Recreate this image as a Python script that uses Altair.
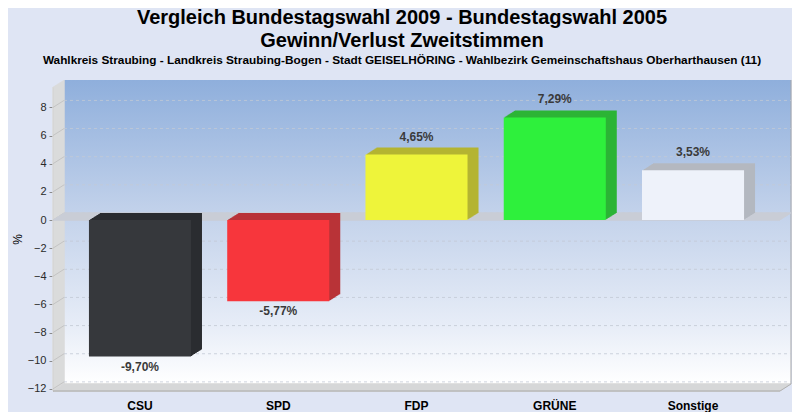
import altair as alt
import pandas as pd

parties = ["CSU", "SPD", "FDP", "GRÜNE", "Sonstige"]
changes = [-9.70, -5.77, 4.65, 7.29, 3.53]
front_colors = ["#36383c", "#f7363c", "#eef43a", "#2ef03c", "#eef2fa"]
side_colors = ["#2b2d31", "#b93338", "#b4b432", "#2cb436", "#b4b8c0"]
y_ticks = [-12, -10, -8, -6, -4, -2, 0, 2, 4, 6, 8]

df = pd.DataFrame({"Partei": parties, "Wert": changes,
                   "front": front_colors, "side": side_colors})
df["label"] = [f"{v:.2f}".replace(".", ",") + "%" for v in changes]
ticks = pd.DataFrame({"t": y_ticks})
one = pd.DataFrame({"a": [0]})

W, H = 738, 304      # plot area incl. depth
FACE = 727           # width of the front plane
DX, DY = 11, 7       # 3d depth
SANS = "Liberation Sans, Arial, sans-serif"

y_scale = alt.Scale(domain=[-12.15, 9.45], nice=False, zero=False)
y_axis = alt.Axis(values=y_ticks, title="%", titleFont=SANS, titleFontSize=12,
                  titleFontWeight="normal", titleColor="#000", titlePadding=3,
                  labelFont=SANS, labelFontSize=11, labelColor="#2a2a2a",
                  labelPadding=3, tickSize=4, tickColor="#8a8a8a",
                  domainColor="#a0a0a0", grid=False)


def yq(field=None, datum=None):
    if datum is not None:
        return alt.Y(datum=datum, type="quantitative", scale=y_scale, axis=y_axis)
    return alt.Y(field, type="quantitative", scale=y_scale, axis=y_axis)


x_enc = alt.X("Partei:N", sort=parties,
              scale=alt.Scale(range=[0, FACE], paddingInner=0.262, paddingOuter=0.26),
              axis=alt.Axis(title=None, labelAngle=0, labelFont=SANS,
                            labelFontSize=12, labelFontWeight="bold",
                            labelColor="#000", labelPadding=9, ticks=False,
                            domain=False))

layers = []

# back plane with gradient
layers.append(alt.Chart(one).mark_rect(
    color=alt.Gradient(gradient="linear", x1=0, x2=0, y1=0, y2=1,
                       stops=[alt.GradientStop(color="#8fafdc", offset=0),
                              alt.GradientStop(color="#c4d3eb", offset=0.45),
                              alt.GradientStop(color="#e6ecf7", offset=0.8),
                              alt.GradientStop(color="#ffffff", offset=1)])
).encode(x=alt.value(DX), x2=alt.value(W), y=alt.value(-DY), y2=alt.value(H - DY)))

# left wall
for i in range(DX + 1):
    layers.append(alt.Chart(one).mark_rule(color="#dadada", strokeWidth=1.5).encode(
        x=alt.value(i), y=alt.value(-i * DY / DX), y2=alt.value(H - i * DY / DX)))

# floor
for i in range(DY + 1):
    layers.append(alt.Chart(one).mark_rule(color="#d6d6d6", strokeWidth=1.5).encode(
        x=alt.value(i * DX / DY), x2=alt.value(FACE + i * DX / DY), y=alt.value(H - i)))
layers.append(alt.Chart(one).mark_rule(color="#a8a8a8").encode(
    x=alt.value(0), x2=alt.value(FACE), y=alt.value(H)))
layers.append(alt.Chart(one).mark_rule(color="#b0b0b0").encode(
    x=alt.value(FACE), x2=alt.value(W), y=alt.value(H), y2=alt.value(H - DY)))
layers.append(alt.Chart(one).mark_rule(color="#a8a8a8").encode(
    x=alt.value(W), y=alt.value(-DY), y2=alt.value(H - DY)))

# grid on back plane and diagonals in the wall
layers.append(alt.Chart(ticks).mark_rule(color="#c3c9d5", strokeDash=[3, 3],
                                         opacity=0.8, yOffset=-DY).encode(
    x=alt.value(DX), x2=alt.value(W), y=yq("t")))
layers.append(alt.Chart(ticks).mark_rule(color="#c4c4c4", y2Offset=-DY).encode(
    x=alt.value(0), x2=alt.value(DX), y=yq("t"), y2=alt.Y2("t")))

# zero plane
for i in range(DX + 1):
    layers.append(alt.Chart(one).mark_rule(color="#c9cdd6", strokeWidth=1.5,
                                           yOffset=-i * DY / DX).encode(
        x=alt.value(i), x2=alt.value(FACE + i), y=yq(datum=0)))

# 3d bars: extruded sides, then front
for i in range(DX, 0, -1):
    off = -i * DY / DX
    layers.append(alt.Chart(df).mark_bar(xOffset=i, x2Offset=i, yOffset=off,
                                         y2Offset=off).encode(
        x=x_enc, y=yq("Wert"), y2=alt.Y2(datum=0),
        color=alt.Color("side:N", scale=None)))
layers.append(alt.Chart(df).mark_bar().encode(
    x=x_enc, y=yq("Wert"), y2=alt.Y2(datum=0),
    color=alt.Color("front:N", scale=None)))

# value labels
label_style = dict(font=SANS, fontSize=12, fontWeight="bold", color="#3a3a3a",
                   baseline="middle")
layers.append(alt.Chart(df[df["Wert"] > 0]).mark_text(dy=-18, **label_style).encode(
    x=x_enc, y=yq("Wert"), text="label:N"))
layers.append(alt.Chart(df[df["Wert"] < 0]).mark_text(dy=10, **label_style).encode(
    x=x_enc, y=yq("Wert"), text="label:N"))

chart = alt.layer(*layers).properties(
    width=W, height=H,
    autosize=alt.AutoSizeParams(type="none"),
    padding={"left": 45, "top": 79, "right": 1, "bottom": 21},
    title=alt.TitleParams(
        text=["Vergleich Bundestagswahl 2009 - Bundestagswahl 2005",
              "Gewinn/Verlust Zweitstimmen"],
        subtitle="Wahlkreis Straubing - Landkreis Straubing-Bogen - Stadt GEISELHÖRING - "
                 "Wahlbezirk Gemeinschaftshaus Oberharthausen (11)",
        font=SANS, fontSize=20, fontWeight="bold", color="#000", lineHeight=23,
        subtitleFont=SANS, subtitleFontSize=11.8, subtitleFontWeight="bold",
        subtitleColor="#000", subtitlePadding=4, anchor="middle", offset=12, dx=-20),
).configure(background="#dfe5f4").configure_view(stroke=None)

chart.save("out.html", embed_options={"renderer": "svg", "actions": False})
